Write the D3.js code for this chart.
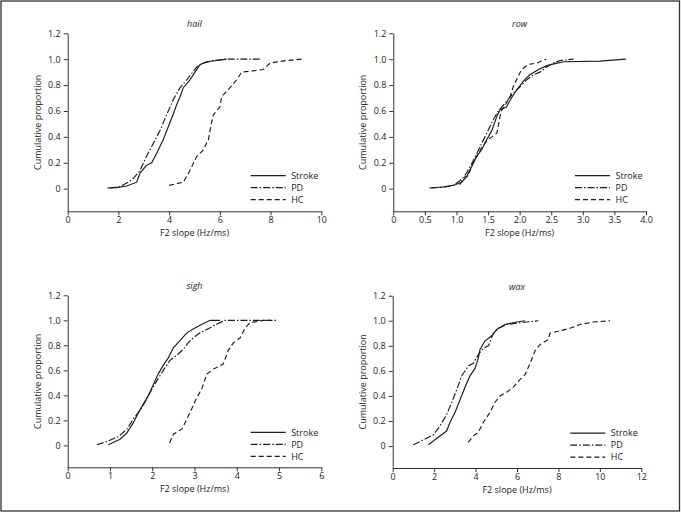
<!DOCTYPE html>
<html><head><meta charset="utf-8">
<script src="https://cdn.jsdelivr.net/npm/d3@7/dist/d3.min.js"></script>
<style>
body{margin:0;background:#fff;}
svg{display:block;font-family:"Open Sans",sans-serif;}
</style></head>
<body><svg id="chart" width="681" height="518"></svg>
<script>
// ---------- DATA ----------
const words = ["hail", "row", "sigh", "wax"];
const groups = ["Stroke", "PD", "HC"];
const yTicks = [0, 0.2, 0.4, 0.6, 0.8, 1.0, 1.2];
const xTicksHail = [0, 2, 4, 6, 8, 10];
const xTicksRow = [0, 0.5, 1.0, 1.5, 2.0, 2.5, 3.0, 3.5, 4.0];
const xTicksSigh = [0, 1, 2, 3, 4, 5, 6];
const xTicksWax = [0, 2, 4, 6, 8, 10, 12];

// [F2 slope, cumulative proportion]
const hailStroke = [[1.56,0.005],[1.93,0.008],[2.33,0.02],[2.72,0.05],[2.85,0.12],[3.11,0.18],[3.31,0.2],[3.5,0.27],[3.77,0.38],[3.97,0.48],[4.17,0.58],[4.3,0.65],[4.43,0.71],[4.56,0.78],[4.82,0.84],[5.02,0.9],[5.22,0.96],[5.48,0.98],[5.87,0.99],[6.27,1.0]];
const hailPD = [[1.66,0.005],[2.05,0.015],[2.39,0.05],[2.59,0.08],[2.85,0.14],[3.11,0.25],[3.38,0.35],[3.64,0.45],[3.9,0.57],[4.17,0.69],[4.43,0.78],[4.69,0.84],[5.09,0.94],[5.35,0.97],[5.74,0.99],[6.27,1.0],[7.58,1.0]];
const hailHC = [[4.0,0.025],[4.56,0.05],[4.82,0.14],[5.09,0.25],[5.35,0.3],[5.55,0.38],[5.64,0.48],[5.74,0.57],[6.0,0.63],[6.07,0.71],[6.4,0.78],[6.66,0.84],[6.86,0.9],[7.32,0.91],[7.71,0.92],[7.98,0.97],[8.63,0.99],[9.22,1.0]];

const rowStroke = [[0.57,0.005],[0.84,0.015],[0.98,0.03],[1.08,0.05],[1.16,0.09],[1.24,0.17],[1.32,0.25],[1.4,0.3],[1.48,0.38],[1.56,0.45],[1.64,0.56],[1.69,0.61],[1.79,0.63],[1.87,0.7],[1.95,0.76],[2.06,0.83],[2.16,0.88],[2.3,0.92],[2.43,0.95],[2.59,0.97],[2.7,0.98],[3.27,0.985],[3.68,1.0]];
const rowPD = [[0.6,0.005],[0.74,0.01],[0.95,0.025],[1.08,0.07],[1.16,0.12],[1.27,0.22],[1.37,0.32],[1.48,0.43],[1.58,0.53],[1.66,0.6],[1.77,0.66],[1.85,0.71],[1.95,0.76],[2.03,0.8],[2.11,0.84],[2.22,0.88],[2.32,0.9],[2.43,0.94],[2.53,0.97],[2.64,0.99],[2.85,1.0]];
const rowHC = [[1.05,0.03],[1.13,0.09],[1.19,0.1],[1.24,0.18],[1.32,0.25],[1.4,0.32],[1.5,0.38],[1.56,0.4],[1.64,0.43],[1.69,0.56],[1.72,0.61],[1.79,0.66],[1.85,0.71],[1.9,0.79],[1.95,0.84],[2.03,0.92],[2.14,0.96],[2.27,0.97],[2.42,1.0]];

const sighStroke = [[0.96,0.005],[1.24,0.05],[1.4,0.1],[1.55,0.18],[1.67,0.26],[1.79,0.33],[1.91,0.4],[2.03,0.49],[2.14,0.57],[2.26,0.64],[2.38,0.7],[2.5,0.78],[2.66,0.84],[2.82,0.9],[2.97,0.93],[3.13,0.96],[3.37,1.0],[3.6,1.0]];
const sighPD = [[0.69,0.005],[0.92,0.03],[1.2,0.07],[1.4,0.13],[1.55,0.21],[1.71,0.28],[1.87,0.37],[1.99,0.45],[2.15,0.54],[2.3,0.62],[2.42,0.68],[2.58,0.72],[2.74,0.77],[2.85,0.82],[2.97,0.86],[3.13,0.9],[3.37,0.94],[3.53,0.97],[3.72,1.0],[4.39,1.0],[4.94,1.0]];
const sighHC = [[2.41,0.02],[2.5,0.09],[2.7,0.13],[2.82,0.21],[2.93,0.29],[3.05,0.38],[3.17,0.45],[3.29,0.57],[3.45,0.61],[3.68,0.65],[3.8,0.76],[3.92,0.82],[4.08,0.86],[4.2,0.94],[4.31,0.98],[4.63,1.0],[4.8,1.0]];

const waxStroke = [[1.72,0.01],[2.04,0.05],[2.28,0.08],[2.6,0.12],[2.77,0.19],[3.01,0.27],[3.25,0.37],[3.49,0.47],[3.73,0.56],[3.97,0.62],[4.13,0.7],[4.21,0.77],[4.46,0.84],[4.78,0.88],[5.02,0.93],[5.42,0.97],[5.98,0.99],[6.39,1.0]];
const waxPD = [[1.0,0.01],[1.48,0.05],[1.96,0.09],[2.28,0.16],[2.6,0.25],[2.85,0.35],[3.09,0.45],[3.33,0.56],[3.65,0.64],[3.89,0.66],[4.13,0.73],[4.38,0.78],[4.62,0.8],[4.86,0.9],[5.1,0.94],[5.5,0.97],[5.98,0.98],[6.47,0.99],[7.03,1.0]];
const waxHC = [[3.65,0.03],[3.89,0.08],[4.13,0.11],[4.38,0.19],[4.7,0.27],[4.94,0.35],[5.18,0.4],[5.5,0.43],[5.82,0.47],[6.14,0.53],[6.39,0.57],[6.63,0.66],[6.87,0.76],[7.11,0.81],[7.51,0.85],[7.59,0.9],[8.07,0.92],[8.56,0.94],[9.04,0.97],[9.68,0.99],[10.49,1.0]];

// ---------- LAYOUT ----------
const panels = [
  {word: words[0], xMax: 10, xTicks: xTicksHail, series: [hailStroke, hailPD, hailHC], left: 67.7, right: 321.3, top: 33.3, bottom: 211.3},
  {word: words[1], xMax: 4, xTicks: xTicksRow, series: [rowStroke, rowPD, rowHC], left: 393.3, right: 646, top: 33.3, bottom: 211.3},
  {word: words[2], xMax: 6, xTicks: xTicksSigh, series: [sighStroke, sighPD, sighHC], left: 67.7, right: 321.3, top: 295.3, bottom: 467.3},
  {word: words[3], xMax: 12, xTicks: xTicksWax, series: [waxStroke, waxPD, waxHC], left: 392.7, right: 641.3, top: 295.7, bottom: 468}
];
const dashes = [null, "7,2,1.5,2", "5,3"];
const ink = "#1c1c1c";

const svg = d3.select("#chart");
svg.append("rect").attr("x", 1).attr("y", 1).attr("width", 678.5).attr("height", 510)
  .attr("fill", "none").attr("stroke", "#333").attr("stroke-width", 1.3);

const yFmt = d => d === 0 ? "0" : d3.format(".1f")(d);

panels.forEach((p, i) => {
  const x = d3.scaleLinear().domain([0, p.xMax]).range([p.left, p.right]);
  const y = d3.scaleLinear().domain([-0.175, 1.2]).range([p.bottom, p.top]);
  const g = svg.append("g");
  const xFmt = p.xMax === 4 ? (d => d === 0 ? "0" : d3.format(".1f")(d)) : d3.format("d");

  const ya = g.append("g").attr("transform", `translate(${p.left},0)`)
    .call(d3.axisLeft(y).tickValues(yTicks).tickFormat(yFmt).tickSize(4).tickSizeOuter(0).tickPadding(3));
  const xa = g.append("g").attr("transform", `translate(0,${p.bottom})`)
    .call(d3.axisBottom(x).tickValues(p.xTicks).tickFormat(xFmt).tickSize(4).tickSizeOuter(0).tickPadding(1.8));
  [ya, xa].forEach(a => {
    a.selectAll("path,line").attr("stroke", "#333").attr("stroke-width", 1);
    a.selectAll("text").attr("fill", ink).style("font-size", "9px").style("font-family", "'Open Sans',sans-serif");
  });

  // title
  g.append("text").attr("x", (p.left + p.right) / 2).attr("y", p.top - 6)
    .attr("text-anchor", "middle").style("font-style", "italic").style("font-size", "9px").attr("fill", ink).text(p.word);
  // x label
  g.append("text").attr("x", (p.left + p.right) / 2).attr("y", p.bottom + 25)
    .attr("text-anchor", "middle").style("font-size", "9px").attr("fill", ink).text("F2 slope (Hz/ms)");
  // y label
  g.append("text").attr("transform", `translate(${p.left - 30},${(p.top + p.bottom) / 2}) rotate(-90)`)
    .attr("text-anchor", "middle").attr("dy", "0.35em").style("font-size", "9px").attr("fill", ink).text("Cumulative proportion");

  const line = d3.line().x(d => x(d[0])).y(d => y(d[1]));
  p.series.forEach((s, k) => {
    g.append("path").datum(s).attr("d", line).attr("fill", "none").attr("stroke", ink)
      .attr("stroke-width", 1.15).attr("stroke-dasharray", dashes[k]);
  });

  // legend
  const lx1 = p.right - (i % 2 === 0 ? 70.6 : 71);
  const lx2 = lx1 + 35;
  const ly0 = y(0) - 13;
  groups.forEach((name, k) => {
    const yy = ly0 + k * 12;
    g.append("line").attr("x1", lx1).attr("x2", lx2).attr("y1", yy).attr("y2", yy)
      .attr("stroke", ink).attr("stroke-width", 1.15).attr("stroke-dasharray", dashes[k]);
    g.append("text").attr("x", lx2 + 5.5).attr("y", yy).attr("dy", "0.35em")
      .style("font-size", "9px").attr("fill", ink).text(name);
  });
});
</script></body></html>
